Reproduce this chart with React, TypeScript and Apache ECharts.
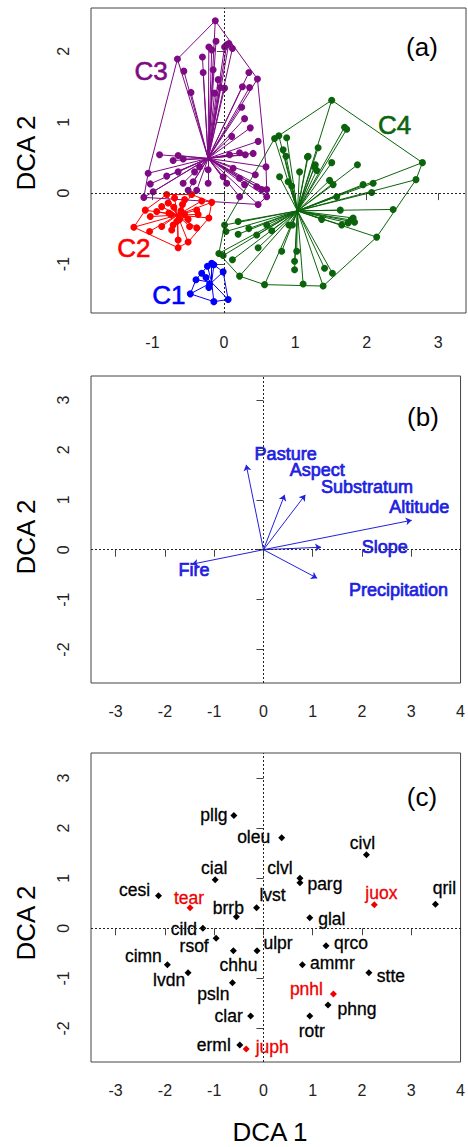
import React, { useEffect, useRef } from "react";
import * as echarts from "echarts";

// ---------- Panel (a): DCA site scores by cluster ----------
const clusterNames = ["C1", "C2", "C3", "C4"];
const c1Points: number[][] = [
  [-0.17, -0.99], [-0.23, -1.03], [-0.14, -1.01], [-0.31, -1.13], [-0.39, -1.22], [-0.25, -1.19],
  [-0.2, -1.28], [-0.01, -1.11], [-0.47, -1.42], [-0.14, -1.53], [0.06, -1.5], [-0.21, -1.33],
];
const c2Points: number[][] = [
  [-1.26, -0.48], [-1.03, -0.33], [-1.1, -0.24], [-0.94, -0.26], [-0.87, -0.19], [-0.78, -0.14],
  [-0.8, -0.02], [-0.69, -0.07], [-0.55, -0.09], [-0.45, -0.02], [-0.31, -0.11], [-0.17, -0.13],
  [-0.38, -0.24], [-0.21, -0.35], [-0.36, -0.3], [-0.48, -0.47], [-0.38, -0.49], [-0.5, -0.37],
  [-0.71, -0.45], [-0.87, -0.47], [-1.04, -0.54], [-0.73, -0.52], [-0.64, -0.66], [-0.5, -0.69],
  [-0.64, -0.77], [-0.74, -0.3], [-0.6, -0.25], [-0.7, -0.2], [-0.58, -0.16], [-0.62, -0.37],
  [-0.77, -0.28], [-0.66, -0.4], [-0.55, -0.3],
];
const c3Points: number[][] = [
  [-0.12, 2.43], [-0.65, 1.89], [-0.56, 1.72], [-0.46, 1.42], [-0.3, 1.92], [-0.29, 1.7], [-0.21, 2.06],
  [-0.17, 2.02], [-0.11, 2.14], [-0.15, 1.74], [-0.08, 1.6], [-0.05, 1.49], [0.01, 1.48], [-0.13, 1.41],
  [0.01, 2.06], [0.07, 2.11], [0.12, 2.04], [0.04, 2.09], [0.35, 1.7], [0.47, 1.61], [0.26, 1.5],
  [0.36, 1.49], [0.25, 1.21], [0.29, 1.05], [0.37, 0.92], [0.11, 0.8], [0.48, 0.73], [0.41, 0.56],
  [0.3, 0.54], [0.22, 0.57], [0.08, 0.54], [0.59, 0.37], [-0.9, 0.54], [-0.64, 0.53], [-0.71, 0.46],
  [-0.57, 0.48], [-1.06, 0.28], [-1.03, 0.13], [-0.8, 0.24], [-0.64, 0.3], [-0.57, 0.14], [-0.43, 0.16],
  [-0.5, 0.04], [-0.38, 0.04], [-0.99, 0.02], [-1.12, -0.06], [-0.22, 0.14], [-0.41, 0.3], [-0.22, 0.33],
  [-0.34, 0.37], [-0.01, 0.23], [0.04, 0.14], [0.22, 0.21], [0.13, 0.35], [0.29, 0.12], [0.46, 0.09],
  [0.53, 0.05], [0.6, 0.05], [0.6, -0.05], [0.48, -0.16], [0.22, -0.05], [0.44, 0.26],
];
const c4Points: number[][] = [
  [0.71, 0.77], [0.77, 0.81], [0.88, 0.78], [0.83, 0.61], [0.87, 0.52], [0.78, 0.23], [0.9, 0.16],
  [0.95, 0.1], [1.06, 0.3], [1.18, 0.52], [1.32, 0.64], [1.27, 0.37], [1.3, 0.32], [1.51, 1.31],
  [1.69, 0.93], [1.72, 0.9], [1.17, 0.51], [1.28, 0.4], [1.51, 0.43], [1.87, 0.4], [1.48, 0.18],
  [1.53, 0.12], [1.95, 0.12], [2.09, 0.14], [2.07, 0.01], [1.58, -0.05], [2.78, 0.43], [2.69, 0.19],
  [2.37, -0.23], [1.63, -0.24], [1.37, -0.37], [1.81, -0.35], [1.74, -0.42], [1.83, -0.41],
  [1.65, -0.45], [1.78, -0.38], [2.14, -0.62], [0.01, -0.45], [0.03, -0.54], [0.2, -0.4], [0.2, -0.58],
  [0.46, -0.59], [0.35, -0.5], [0.6, -0.45], [0.67, -0.53], [-0.07, -0.85], [-0.01, -0.88],
  [0.12, -0.94], [0.48, -0.77], [0.81, -0.82], [0.91, -0.45], [0.96, -0.45], [1.02, -0.82],
  [0.99, -0.96], [0.99, -1.08], [1.41, -1.06], [1.52, -1.13], [0.22, -1.17], [0.57, -1.29],
  [1.11, -1.28], [1.39, -1.31],
];
const clusterCentroids: number[][] = [[-0.17, -1.26], [-0.65, -0.31], [-0.22, 0.49], [1.03, -0.25]];

// ---------- Panel (b): environmental vectors ----------
const envNames = ["Pasture", "Aspect", "Substratum", "Altitude", "Slope", "Precipitation", "Fire"];
const envX = [-0.35, 0.43, 0.85, 3.01, 1.17, 1.09, -1.45];
const envY = [1.7, 1.1, 1.1, 0.59, 0.05, -0.57, -0.29];

// ---------- Panel (c): species scores ----------
const speciesNames = [
  "pllg", "oleu", "civl", "cial", "clvl", "parg", "cesi", "tear", "lvst", "brrb", "juox", "qril", "glal",
  "cild", "rsof", "ulpr", "chhu", "qrco", "cimn", "ammr", "lvdn", "stte", "psln", "pnhl", "phng", "clar",
  "rotr", "erml", "juph",
];
const speciesX = [
  -0.6, 0.37, 2.09, -0.98, 0.74, 0.74, -2.13, -1.49, -0.14, -0.55, 2.25, 3.49, 0.94,
  -1.23, -0.96, -0.13, -0.61, 1.27, -1.95, 0.79, -1.53, 2.14, -0.63, 1.42, 1.31, -0.26,
  0.94, -0.48, -0.35,
];
const speciesY = [
  2.25, 1.81, 1.47, 0.97, 1.0, 0.91, 0.65, 0.41, 0.41, 0.23, 0.47, 0.48, 0.21,
  0.0, -0.2, -0.45, -0.45, -0.35, -0.73, -0.73, -0.89, -0.89, -1.09, -1.31, -1.53, -1.75,
  -1.75, -2.33, -2.41,
];
const highlightedSpecies = ["tear", "juox", "pnhl", "juph"];

// ---------- Tick labels ----------
const xTicksA = [-1, 0, 1, 2, 3];
const yTicksA = [-1, 0, 1, 2];
const xTicksBC = [-3, -2, -1, 0, 1, 2, 3, 4];
const yTicksBC = [-2, -1, 0, 1, 2, 3];

// ---------- Layout / style (not data) ----------
const FONT = '"Liberation Sans", Arial, sans-serif';
const clusterColors = ["#0000ff", "#ff0000", "#7e0a84", "#0b640b"];
const clusterLabelPos: number[][] = [[-0.77, -1.43], [-1.26, -0.77], [-1.02, 1.72], [2.39, 0.96]];
const envColor = "#2020e0";
const envLabelPos: number[][] = [
  [0.45, 1.92], [1.09, 1.59], [2.1, 1.25], [3.16, 0.85], [2.46, 0.05], [2.74, -0.8], [-1.41, -0.41],
];
const speciesLabelOffset: number[][] = [
  [-20, -1], [-28, -1], [-4, -12], [-1, -12], [-20, -10], [25, 1], [-24, -6], [-1, -10], [16, -13],
  [-8, -9], [7, -12], [9, -16], [22, 1], [-19, 1], [-22, 8], [21, -8], [5, 14], [25, -3], [-24, -9],
  [30, -2], [-19, 7], [22, 3], [-19, 11], [-27, -5], [29, 4], [-22, 0], [2, 15], [-26, 0], [26, -2],
];

function convexHull(pts: number[][]): number[][] {
  const p = pts.slice().sort((a, b) => a[0] - b[0] || a[1] - b[1]);
  const cross = (o: number[], a: number[], b: number[]) =>
    (a[0] - o[0]) * (b[1] - o[1]) - (a[1] - o[1]) * (b[0] - o[0]);
  const lower: number[][] = [];
  for (const q of p) {
    while (lower.length >= 2 && cross(lower[lower.length - 2], lower[lower.length - 1], q) <= 0) lower.pop();
    lower.push(q);
  }
  const upper: number[][] = [];
  for (let i = p.length - 1; i >= 0; i--) {
    const q = p[i];
    while (upper.length >= 2 && cross(upper[upper.length - 2], upper[upper.length - 1], q) <= 0) upper.pop();
    upper.push(q);
  }
  upper.pop();
  lower.pop();
  return lower.concat(upper);
}

function xAxisCfg(gridIndex: number, min: number, max: number, ticks: number[], margin: number) {
  return {
    type: "value", gridIndex, min, max, position: "bottom",
    axisLine: { show: false },
    axisTick: { show: true, inside: false, length: 7, lineStyle: { color: "#444", width: 1 }, customValues: ticks },
    axisLabel: { show: true, customValues: ticks, margin, color: "#222", fontSize: 16, fontFamily: FONT },
    splitLine: { show: false },
  };
}
function yAxisCfg(gridIndex: number, min: number, max: number, ticks: number[], margin: number) {
  return {
    type: "value", gridIndex, min, max, position: "left",
    axisLine: { show: false },
    axisTick: { show: true, inside: false, length: 7, lineStyle: { color: "#444", width: 1 }, customValues: ticks },
    axisLabel: { show: true, customValues: ticks, margin, rotate: 90, color: "#222", fontSize: 16, fontFamily: FONT },
    splitLine: { show: false },
  };
}

function zeroLines(idx: number) {
  return {
    type: "scatter", xAxisIndex: idx, yAxisIndex: idx, data: [[0, 0]], symbolSize: 0, silent: true, z: 1,
    markLine: {
      silent: true, symbol: ["none", "none"], label: { show: false },
      lineStyle: { type: [2, 2], color: "#222", width: 1 },
      data: [{ xAxis: 0 }, { yAxis: 0 }],
    },
  };
}

const textLabel = (text: string, color: string, size: number, offset?: number[], border = 0.3) => ({
  show: true, position: "inside", offset: offset || [0, 0], formatter: text, color,
  fontSize: size, fontFamily: FONT, align: "center", verticalAlign: "middle",
  textBorderWidth: border, textBorderColor: color, textShadowBlur: 0, opacity: 1,
});

export default function App() {
  const ref = useRef<HTMLDivElement>(null);
  useEffect(() => {
    if (!ref.current) return;
    const chart = echarts.init(ref.current, undefined, { renderer: "svg" });
    const clusters = [c1Points, c2Points, c3Points, c4Points];
    const series: any[] = [zeroLines(0), zeroLines(1), zeroLines(2)];

    clusters.forEach((pts, k) => {
      const color = clusterColors[k];
      const c = clusterCentroids[k];
      series.push({
        type: "lines", coordinateSystem: "cartesian2d", xAxisIndex: 0, yAxisIndex: 0, silent: true, z: 2,
        data: pts.map((p) => ({ coords: [c, p] })),
        lineStyle: { color, width: 1, opacity: 1, curveness: 0 },
      });
      const hull = convexHull(pts);
      series.push({
        type: "line", xAxisIndex: 0, yAxisIndex: 0, silent: true, z: 2, symbol: "none", showSymbol: false,
        data: hull.concat([hull[0]]), lineStyle: { color, width: 1 },
      });
      series.push({
        type: "scatter", xAxisIndex: 0, yAxisIndex: 0, z: 3, data: pts, symbolSize: 7,
        itemStyle: { color, opacity: 1 },
      });
    });
    series.push({
      type: "scatter", xAxisIndex: 0, yAxisIndex: 0, z: 4, symbolSize: 0,
      data: clusterNames.map((n, k) => ({
        value: clusterLabelPos[k], name: n,
        itemStyle: { color: clusterColors[k], opacity: 1 },
        label: textLabel(n, clusterColors[k], 26, [0, 0], 0.6),
      })),
    });

    // Panel b
    series.push({
      type: "lines", coordinateSystem: "cartesian2d", xAxisIndex: 1, yAxisIndex: 1, silent: true, z: 3,
      symbol: ["none", "arrow"], symbolSize: 6,
      data: envNames.map((_, i) => ({ coords: [[0, 0], [envX[i], envY[i]]] })),
      lineStyle: { color: envColor, width: 1, opacity: 1 },
    });
    series.push({
      type: "scatter", xAxisIndex: 1, yAxisIndex: 1, z: 4, symbolSize: 0,
      data: envNames.map((n, i) => ({
        value: envLabelPos[i],
        itemStyle: { color: envColor, opacity: 1 },
        label: textLabel(n, envColor, 18, [0, 0], 0.7),
      })),
    });

    // Panel c
    series.push({
      type: "scatter", xAxisIndex: 2, yAxisIndex: 2, z: 4, symbol: "diamond", symbolSize: 7,
      itemStyle: { opacity: 1 },
      data: speciesNames.map((n, i) => {
        const col = highlightedSpecies.includes(n) ? "#ee0000" : "#000";
        return {
          value: [speciesX[i], speciesY[i]],
          itemStyle: { color: col, opacity: 1 },
          label: textLabel(n, col, 17.5, speciesLabelOffset[i]),
        };
      }),
    });

    const title = (text: string, x: number, y: number, rot = 0, size = 26) => ({
      type: "text", x, y, rotation: rot, silent: true,
      style: { text, fontSize: size, fontFamily: FONT, fill: "#000", align: "center", verticalAlign: "middle" },
    });

    chart.setOption({
      animation: false,
      backgroundColor: "#fff",
      grid: [
        { left: 91, top: 8, width: 375, height: 305, show: true, borderColor: "#444", borderWidth: 1 },
        { left: 91, top: 376, width: 375, height: 307, show: true, borderColor: "#444", borderWidth: 1 },
        { left: 91, top: 753, width: 375, height: 309, show: true, borderColor: "#444", borderWidth: 1 },
      ],
      xAxis: [
        xAxisCfg(0, -1.86, 3.39, xTicksA, 21),
        xAxisCfg(1, -3.5, 4.0, xTicksBC, 20),
        xAxisCfg(2, -3.5, 4.0, xTicksBC, 20),
      ],
      yAxis: [
        yAxisCfg(0, -1.69, 2.61, yTicksA, 20),
        yAxisCfg(1, -2.67, 3.48, yTicksBC, 20),
        yAxisCfg(2, -2.67, 3.5, yTicksBC, 20),
      ],
      graphic: [
        title("DCA 2", 26, 153, Math.PI / 2),
        title("DCA 2", 26, 537, Math.PI / 2),
        title("DCA 2", 26, 923, Math.PI / 2),
        title("DCA 1", 270, 1132),
        title("(a)", 422, 47),
        title("(b)", 423, 417),
        title("(c)", 422, 797),
      ],
      series,
    });
    return () => chart.dispose();
  }, []);
  return (
    <div
      ref={ref}
      style={{ position: "absolute", left: 0, top: 0, width: 468, height: 1147, background: "#fff" }}
    />
  );
}
